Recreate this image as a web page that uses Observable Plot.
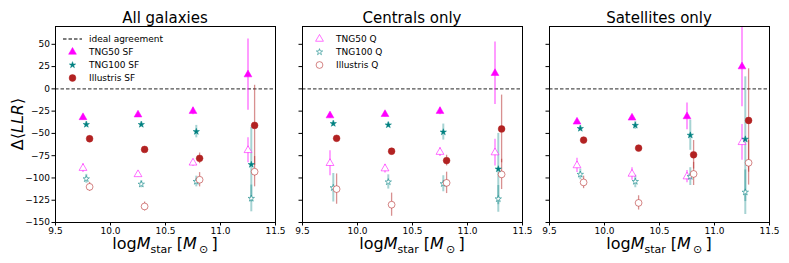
<!DOCTYPE html>
<html><head><meta charset="utf-8">
<script src="https://cdn.jsdelivr.net/npm/d3@7"></script>
<script src="https://cdn.jsdelivr.net/npm/@observablehq/plot@0.6"></script>
<style>
body{margin:0;background:white;}
#chart{position:relative;width:789px;height:263px;}
#chart svg{position:absolute;left:0;top:0;}
</style></head><body><div id="chart"></div>
<script>
// ---------- data ----------
const panelTitles = ["All galaxies", "Centrals only", "Satellites only"];
const massBins = [9.75, 10.25, 10.75, 11.25];
const simOffsets = {TNG50: 0, TNG100: 0.03, Illustris: 0.06};
const yTicks = [-150, -125, -100, -75, -50, -25, 0, 25, 50];
const xTicks = [9.5, 10.0, 10.5, 11.0, 11.5];

// values per panel [all, centrals, satellites], one entry per mass bin
const tng50SF      = [[-32, -29, -25, 16],      [-30, -28.5, -25, 17.5],   [-37, -32.5, -31, 25]];
const tng50SFerr   = [[3, 3, 4, 40],            [3, 3, 4, 35],             [3, 3, 15, 45]];
const tng100SF     = [[-40, -40, -48, -85],     [-39, -40.5, -48.5, -90],  [-44.5, -41, -52, -56.5]];
const tng100SFerr  = [[3, 3, 7, 42],            [3, 3, 9, 40],             [3, 4.5, 17, 70]];
const illSF        = [[-56, -68, -78, -41],     [-55.5, -70, -80.5, -45],  [-57.5, -66.5, -74, -35.5]];
const illSFerr     = [[3, 3, 6, 45],            [3, 3, 6, 38],             [3, 3, 16, 58]];
const tng50Q       = [[-89, -96, -83, -69],     [-83.5, -89.5, -71, -71.5],[-86, -95.5, -98.5, -60]];
const tng50Qerr    = [[5, 3, 4, 14],            [14, 5, 5, 15],            [8, 7, 7, 20]];
const tng100Q      = [[-101, -107, -104, -123], [-111, -104.5, -106.5, -123.5], [-96, -104, -98.5, -116]];
const tng100Qerr   = [[5, 4, 6, 15],            [16, 8, 9, 15],            [6, 7, 10, 25]];
const illQ         = [[-110, -132, -102, -93],  [-112.5, -130, -105.5, -96], [-105, -128, -95.5, -83]];
const illQerr      = [[5, 5, 8, 17],            [17, 13, 12, 17],          [7, 8, 13, 25]];

// ---------- styles ----------
const MAG = "#ff00ff", TEAL = "#008080", FIRE = "#b22222";
const series = [
  {name: "TNG50 SF",    sim: "TNG50",     v: tng50SF,  e: tng50SFerr,  symbol: "triangle", r: 2.9, filled: true,  color: MAG,  barOp: 0.6, barW: 1.3},
  {name: "TNG100 SF",   sim: "TNG100",    v: tng100SF, e: tng100SFerr, symbol: "star",     r: 2.0, filled: true,  color: TEAL, barOp: 0.35, barW: 2},
  {name: "Illustris SF",sim: "Illustris", v: illSF,    e: illSFerr,    symbol: "circle",   r: 3.4, filled: true,  color: FIRE, barOp: 0.5, barW: 1.3},
  {name: "TNG50 Q",     sim: "TNG50",     v: tng50Q,   e: tng50Qerr,   symbol: "triangle", r: 2.9, filled: false, color: MAG,  barOp: 0.55, barW: 1.3},
  {name: "TNG100 Q",    sim: "TNG100",    v: tng100Q,  e: tng100Qerr,  symbol: "star",     r: 2.0, filled: false, color: TEAL, barOp: 0.35, barW: 2},
  {name: "Illustris Q", sim: "Illustris", v: illQ,     e: illQerr,     symbol: "circle",   r: 3.4, filled: false, color: FIRE, barOp: 0.5, barW: 1.3}
];

const W = 789, H = 263, TOP = 26, BOTTOM = 41;
const frames = [[55, 275], [302, 522], [549, 769]];
const chart = document.getElementById("chart");
const FONT = "DejaVu Sans";

function rowsFor(s, p) {
  return massBins.map((m, i) => ({x: m + simOffsets[s.sim], y: s.v[p][i], err: s.e[p][i]}));
}

panelTitles.forEach((title, p) => {
  const [L, R] = frames[p];
  const barMarks = [], qMarks = [], sfMarks = [];
  series.forEach(s => {
    const rows = rowsFor(s, p);
    barMarks.push(Plot.ruleX(rows, {x: "x", y1: d => d.y - d.err, y2: d => d.y + d.err,
      stroke: s.color, strokeOpacity: s.barOp, strokeWidth: s.barW, clip: true}));
    const dot = s.filled
      ? Plot.dot(rows, {x: "x", y: "y", symbol: s.symbol, r: s.r, fill: s.color, stroke: s.color, strokeWidth: 0.5})
      : Plot.dot(rows, {x: "x", y: "y", symbol: s.symbol, r: s.r, fill: "white", stroke: s.color, strokeOpacity: 0.55, strokeWidth: 1});
    (s.filled ? sfMarks : qMarks).push(dot);
  });
  const plot = Plot.plot({
    width: W, height: H,
    marginLeft: L, marginRight: W - R, marginTop: TOP, marginBottom: BOTTOM,
    style: {fontFamily: FONT, fontSize: "9px", background: "transparent", overflow: "visible", color: "black"},
    x: {domain: [9.5, 11.5], ticks: xTicks, tickFormat: d3.format(".1f"), tickSize: 3.5, tickPadding: 2, label: null},
    y: {domain: [-150, 70], ticks: yTicks, tickFormat: p === 0 ? d3.format("d") : () => "", tickSize: 3.5, tickPadding: 2, label: null},
    marks: [
      Plot.ruleY([0], {stroke: "#333", strokeOpacity: 0.85, strokeDasharray: "3.5,2", strokeWidth: 1.3}),
      ...barMarks, ...qMarks, ...sfMarks,
      Plot.frame({stroke: "black", strokeWidth: 1})
    ]
  });
  chart.appendChild(plot);
  const svg = d3.select(plot);
  const cx = (L + R) / 2;
  // title
  svg.append("text").attr("x", cx).attr("y", 22.5).attr("text-anchor", "middle")
    .attr("font-family", FONT).attr("font-size", 15).attr("fill", "black").text(title);
  // x label
  const xl = svg.append("text").attr("x", cx).attr("y", 249).attr("text-anchor", "middle")
    .attr("font-family", FONT).attr("font-size", 16).attr("fill", "black");
  xl.append("tspan").text("log");
  xl.append("tspan").attr("font-style", "italic").text("M");
  xl.append("tspan").attr("font-size", 11).attr("dy", 4).text("star");
  xl.append("tspan").attr("dy", -4).text(" [");
  xl.append("tspan").attr("font-style", "italic").text("M");
  xl.append("tspan").attr("font-size", 11).attr("dy", 4).text("\u2009\u2299");
  xl.append("tspan").attr("dy", -4).text("\u2009]");
  if (p === 0) {
    const yl = svg.append("text").attr("transform", "translate(17,124) rotate(-90)")
      .attr("text-anchor", "middle").attr("dominant-baseline", "central")
      .attr("font-family", FONT).attr("font-size", 16).attr("fill", "black");
    yl.append("tspan").text("\u0394\u27E8");
    yl.append("tspan").attr("font-style", "italic").text("LLR");
    yl.append("tspan").text("\u27E9");
  }
  // legend
  const symMap = {triangle: d3.symbolTriangle, star: d3.symbolStar, circle: d3.symbolCircle};
  const legItems = p === 0 ? [{dash: true, label: "ideal agreement"}, ...series.slice(0, 3)]
                 : p === 1 ? series.slice(3) : [];
  const g = svg.append("g").attr("font-family", FONT).attr("font-size", 9).attr("text-anchor", "start");
  legItems.forEach((it, i) => {
    const yy = 39 + i * 13;
    if (it.dash) {
      g.append("line").attr("x1", L + 8).attr("x2", L + 27).attr("y1", yy).attr("y2", yy)
        .attr("stroke", "#333").attr("stroke-opacity", 0.85).attr("stroke-dasharray", "3.5,2").attr("stroke-width", 1.3);
    } else {
      const path = d3.symbol(symMap[it.symbol], Math.PI * it.r * it.r)();
      const sym = g.append("path").attr("d", path).attr("transform", `translate(${L + 17.5},${yy})`);
      if (it.filled) sym.attr("fill", it.color).attr("stroke", it.color).attr("stroke-width", 0.5);
      else sym.attr("fill", "white").attr("stroke", it.color).attr("stroke-opacity", 0.55).attr("stroke-width", 1);
    }
    g.append("text").attr("x", L + 34).attr("y", yy).attr("dy", "0.35em").attr("fill", "black")
      .attr("text-anchor", "start").text(it.dash ? it.label : it.name);
  });
});
</script></body></html>
